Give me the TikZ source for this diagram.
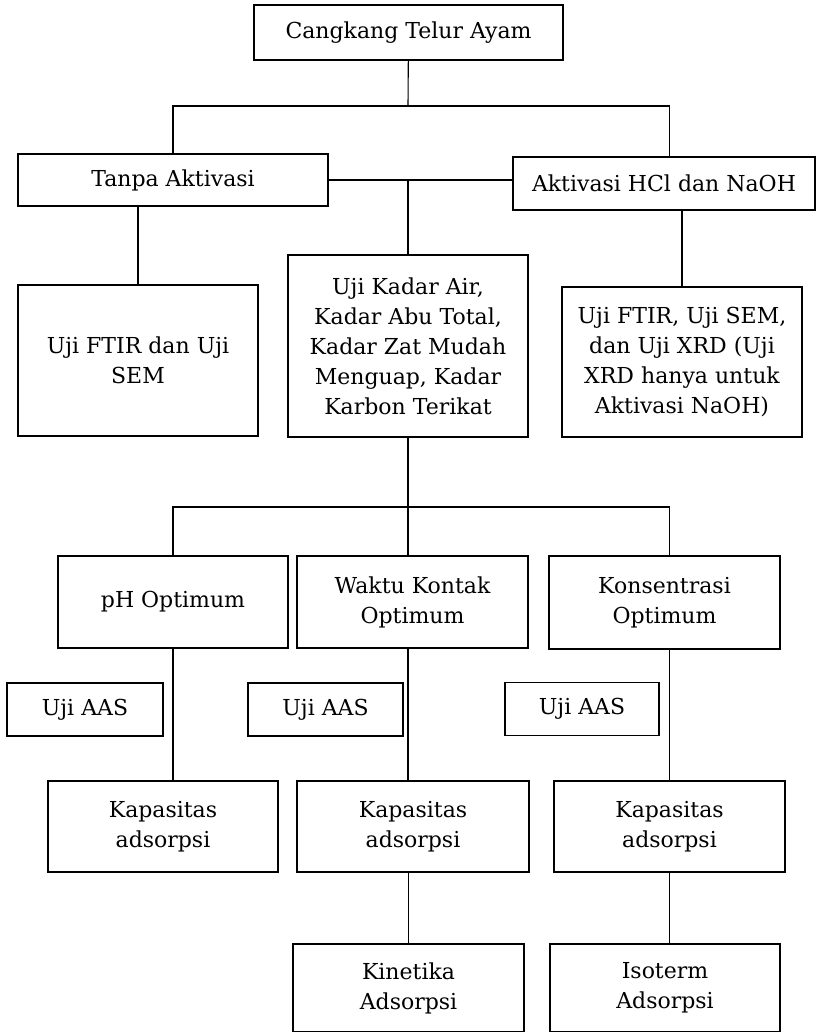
\documentclass[tikz,border=0pt]{standalone}
\usepackage{fontspec}
\setmainfont{DejaVu Serif}
\begin{document}
\begin{tikzpicture}[x=1pt, y=-1pt,
    kotak/.style={draw, line width=1.8pt, align=center, inner sep=0pt,
        font=\fontsize{22}{30}\selectfont},
    garis/.style={line width=1.1pt}]
    \useasboundingbox (0,0) rectangle (816,1032);
    \clip (0,0) rectangle (816,1032);

    % baris atas
    \node[kotak, minimum width=309pt, minimum height=55pt] (cangkang) at (408.5,32.5) {Cangkang Telur Ayam};
    \node[kotak, minimum width=310pt, minimum height=52pt] (tanpa) at (173,180) {Tanpa Aktivasi};
    \node[kotak, minimum width=302pt, minimum height=53pt] (aktivasi) at (664,183.5) {Aktivasi HCl dan NaOH};

    \node[kotak, minimum width=240pt, minimum height=151pt] (ujikiri) at (138,360.5) {Uji FTIR dan Uji\\SEM};
    \node[kotak, minimum width=240pt, minimum height=182pt] (kadar) at (408,346) {Uji Kadar Air,\\Kadar Abu Total,\\Kadar Zat Mudah\\Menguap, Kadar\\Karbon Terikat};
    \node[kotak, minimum width=240pt, minimum height=150pt] (ujikanan) at (682,362) {Uji FTIR, Uji SEM,\\dan Uji XRD (Uji\\XRD hanya untuk\\Aktivasi NaOH)};

    % variasi optimum
    \node[kotak, minimum width=230pt, minimum height=92pt] (ph) at (173,602) {pH Optimum};
    \node[kotak, minimum width=231pt, minimum height=92pt] (waktu) at (412.5,602) {Waktu Kontak\\Optimum};
    \node[kotak, minimum width=231pt, minimum height=93pt] (konsen) at (664.5,602.5) {Konsentrasi\\Optimum};

    \node[kotak, minimum width=156pt, minimum height=53pt] (aas1) at (85,709.5) {Uji AAS};
    \node[kotak, minimum width=155pt, minimum height=53pt] (aas2) at (325.5,709.5) {Uji AAS};
    \node[kotak, minimum width=154pt, minimum height=53pt] (aas3) at (582,709) {Uji AAS};

    \node[kotak, minimum width=230pt, minimum height=91pt] (kap1) at (163,826.5) {Kapasitas\\adsorpsi};
    \node[kotak, minimum width=232pt, minimum height=91pt] (kap2) at (413,826.5) {Kapasitas\\adsorpsi};
    \node[kotak, minimum width=231pt, minimum height=91pt] (kap3) at (669.5,826.5) {Kapasitas\\adsorpsi};

    \node[kotak, minimum width=231pt, minimum height=88pt] (kinetika) at (408.5,988) {Kinetika\\Adsorpsi};
    \node[kotak, minimum width=230pt, minimum height=88pt] (isoterm) at (665,988) {Isoterm\\Adsorpsi};

    \coordinate (atas) at (408,106);
    \coordinate (bawah) at (408,507);

    % penghubung
    \draw[garis] (cangkang) -- (atas);
    \draw[garis] (tanpa.north) |- (atas) -| (kap3.north |- aktivasi.north);
    \draw[garis] (tanpa.east) -- (tanpa.east -| aktivasi.west);
    \draw[garis] (kadar.north |- tanpa.east) -- (kadar.north);
    \draw[garis] (ujikiri.north |- tanpa.south) -- (ujikiri.north);
    \draw[garis] (ujikanan.north |- aktivasi.south) -- (ujikanan.north);

    \draw[garis] (kadar.south) -- (kadar.south |- waktu.north);
    \draw[garis] (ph.north) |- (bawah) -| (kap3.north |- konsen.north);

    \draw[garis] (ph.south) -- (ph.south |- kap1.north);
    \draw[garis] (waktu.south -| kadar.south) -- (kap2.north -| kadar.south);
    \draw[garis] (kap3.north |- konsen.south) -- (kap3.north);

    \draw[garis] (kinetika.north |- kap2.south) -- (kinetika.north);
    \draw[garis] (kap3.south) -- (kap3.south |- isoterm.north);
\end{tikzpicture}
\end{document}
